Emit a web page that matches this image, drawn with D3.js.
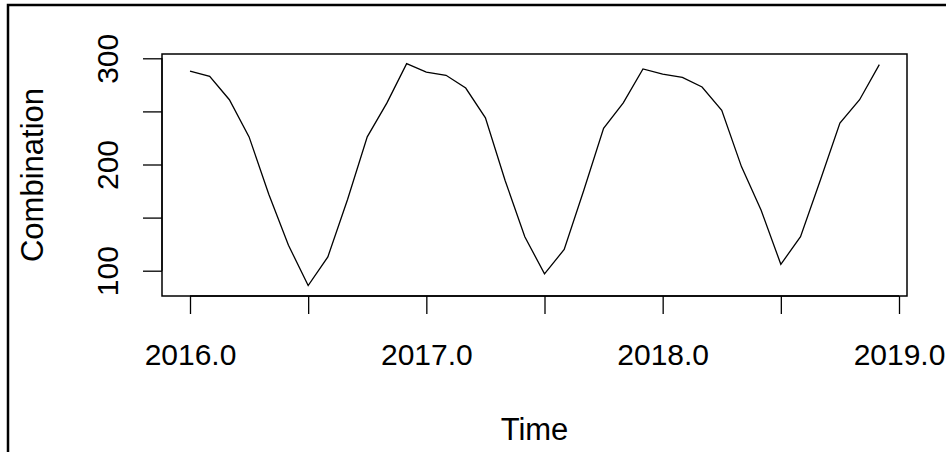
<!DOCTYPE html>
<html>
<head>
<meta charset="utf-8">
<script src="https://cdn.jsdelivr.net/npm/d3@7"></script>
<style>
  html, body { margin: 0; padding: 0; background: #fff; }
  svg { display: block; }
  text { font-family: "Liberation Sans", Arial, sans-serif; fill: #000; }
</style>
</head>
<body>
<svg id="chart" width="946" height="452"></svg>
<script>
// monthly series, Jan 2016 .. Dec 2018
const startYear = 2016;
const values2016 = [288, 283, 261, 226, 172, 124, 86, 113, 167, 226, 258, 295];
const values2017 = [287, 284, 272, 244, 185, 132, 97, 120, 176, 234, 258, 290];
const values2018 = [285, 282, 273, 251, 198, 157, 106, 132, 185, 239, 261, 294];

const xTickValues = [2016, 2016.5, 2017, 2017.5, 2018, 2018.5, 2019];
const xTickLabels = ["2016.0", "", "2017.0", "", "2018.0", "", "2019.0"];
const yTickValues = [100, 150, 200, 250, 300];
const yTickLabels = ["100", "", "200", "", "300"];

const series = values2016.concat(values2017, values2018).map((v, i) => ({
  t: startYear + i / 12,
  v: v,
}));

const svg = d3.select("#chart");

// box of the plotting region
const box = { left: 162, right: 907, top: 54, bottom: 296 };

const x = d3.scaleLinear().domain([2016, 2019]).range([190, 899]);
const y = d3.scaleLinear().domain([100, 300]).range([270.7, 58.3]);

// outer figure border
svg.append("rect")
  .attr("x", 8).attr("y", 5)
  .attr("width", 1000).attr("height", 500)
  .attr("fill", "none").attr("stroke", "#000").attr("stroke-width", 2.5);

// x axis
const xAxis = d3.axisBottom(x)
  .tickValues(xTickValues)
  .tickSize(18)
  .tickPadding(30)
  .tickFormat((d, i) => xTickLabels[i]);

const gx = svg.append("g")
  .attr("transform", `translate(0,${box.bottom})`)
  .call(xAxis);
gx.select(".domain").attr("stroke", "#000").attr("stroke-width", 1.3)
  .attr("d", `M${x(2016)},0H${x(2019)}`);
gx.selectAll(".tick line").attr("stroke", "#000").attr("stroke-width", 1.3);
gx.selectAll(".tick text")
  .attr("font-size", 30)
  .attr("font-family", "Liberation Sans, Arial, sans-serif")
  .attr("fill", "#000");

// y axis
const yAxis = d3.axisLeft(y)
  .tickValues(yTickValues)
  .tickSize(19)
  .tickPadding(0)
  .tickFormat((d, i) => yTickLabels[i]);

const gy = svg.append("g")
  .attr("transform", `translate(${box.left},0)`)
  .call(yAxis);
gy.select(".domain").attr("stroke", "#000").attr("stroke-width", 1.3)
  .attr("d", `M0,${y(100)}V${y(300)}`);
gy.selectAll(".tick line").attr("stroke", "#000").attr("stroke-width", 1.3);
gy.selectAll(".tick text")
  .attr("font-size", 30)
  .attr("font-family", "Liberation Sans, Arial, sans-serif")
  .attr("fill", "#000")
  .attr("text-anchor", "middle")
  .attr("dy", null)
  .attr("x", null)
  .attr("transform", `translate(-44,0) rotate(-90)`);

// plot box
svg.append("rect")
  .attr("x", box.left).attr("y", box.top)
  .attr("width", box.right - box.left).attr("height", box.bottom - box.top)
  .attr("fill", "none").attr("stroke", "#000").attr("stroke-width", 1.5);

// the series line
const line = d3.line()
  .x((d) => x(d.t))
  .y((d) => y(d.v));

svg.append("path")
  .datum(series)
  .attr("d", line)
  .attr("fill", "none")
  .attr("stroke", "#000")
  .attr("stroke-width", 1.3);

// axis titles
svg.append("text")
  .attr("x", (box.left + box.right) / 2)
  .attr("y", 440)
  .attr("text-anchor", "middle")
  .attr("font-size", 31)
  .text("Time");

svg.append("text")
  .attr("transform", `translate(43,${(box.top + box.bottom) / 2}) rotate(-90)`)
  .attr("text-anchor", "middle")
  .attr("font-size", 31)
  .text("Combination");
</script>
</body>
</html>
